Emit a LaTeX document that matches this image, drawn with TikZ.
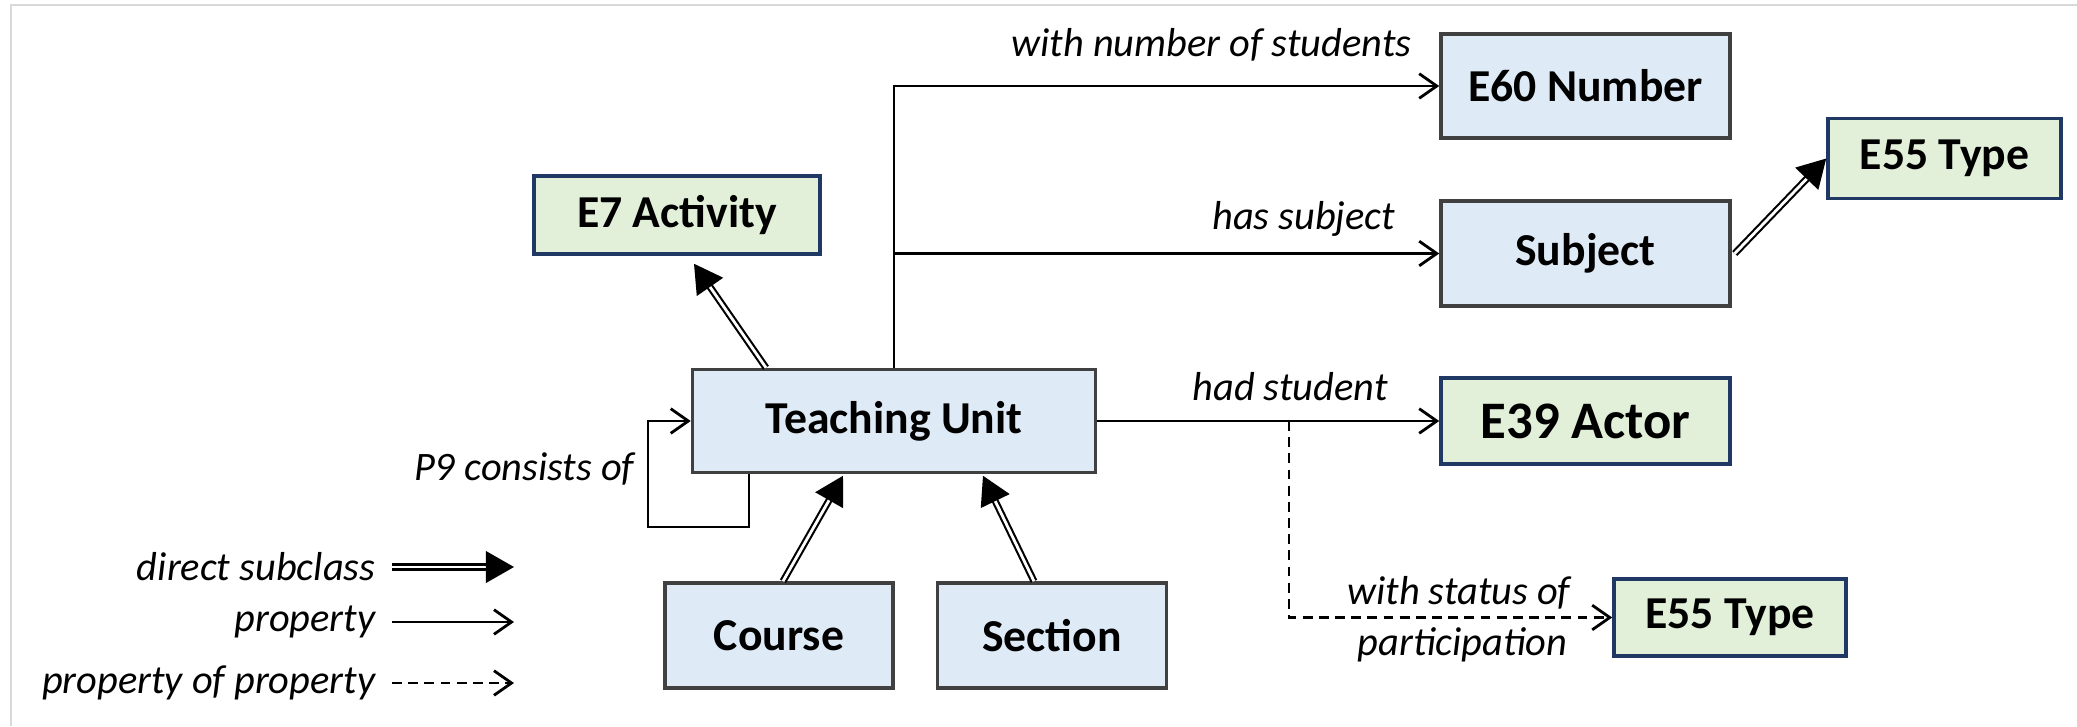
\documentclass[tikz,border=0pt]{standalone}
\usepackage{fontspec}
\setmainfont{Carlito}
\usetikzlibrary{arrows.meta,calc}

\definecolor{boxblue}{HTML}{DEEAF6}
\definecolor{boxgreen}{HTML}{E2EFD9}
\definecolor{edgegray}{HTML}{404040}
\definecolor{edgenavy}{HTML}{1F3864}

\begin{document}
\begin{tikzpicture}[
  cls/.style = {draw=edgegray, fill=boxblue, line width=1pt, inner sep=0pt,
                font=\fontsize{13}{15}\selectfont\bfseries},
  crm/.style = {cls, draw=edgenavy, fill=boxgreen},
  lbl/.style = {inner sep=0pt, font=\fontsize{11.5}{13}\selectfont\itshape},
  prop/.style = {line width=0.8pt, -{Straight Barb[length=5pt,width=7pt]}},
  propprop/.style = {prop, dash pattern=on 2.8pt off 1.8pt},
  subcl/.style = {line width=0.6pt, double, double distance=0.8pt,
                  -{Triangle[length=8pt,width=9pt]}}]
			\useasboundingbox (0,0) rectangle (20.77,7.26);
			\draw [gray!30, line width=0.6pt] (0.107,0) -- (0.107,7.21) -- (20.77,7.21);

			% classes
			\node[cls, minimum width=4.03cm, minimum height=1.03cm] (tu) at (8.94,3.05) {Teaching Unit};
			\node[crm, minimum width=2.86cm, minimum height=0.78cm] (act) at (6.77,5.11) {E7 Activity};
			\node[cls, minimum width=2.89cm, minimum height=1.04cm] (num) at (15.855,6.40) {E60 Number};
			\node[cls, minimum width=2.89cm, minimum height=1.05cm] (subj) at (15.855,4.725) {Subject};
			\node[crm, minimum width=2.33cm, minimum height=0.80cm] (typea) at (19.445,5.675) {E55 Type};
			\node[crm, minimum width=2.89cm, minimum height=0.86cm,
			      font=\fontsize{15}{17}\selectfont\bfseries] (actor) at (15.855,3.05) {E39 Actor};
			\node[crm, minimum width=2.32cm, minimum height=0.77cm] (typeb) at (17.30,1.085) {E55 Type};
			\node[cls, minimum width=2.28cm, minimum height=1.05cm] (course) at (7.79,0.905) {Course};
			\node[cls, minimum width=2.29cm, minimum height=1.05cm] (sect) at (10.52,0.905) {Section};

			% properties
			\draw [prop] (tu.north) |- (num.west);
			\draw [prop] (tu.north |- subj.west) -- (subj.west);
			\draw [prop] (tu.east) -- (actor.west);
			\coordinate (hs) at (12.89,3.05);
			\draw [propprop] (hs) |- (typeb.west);
			\coordinate (loop) at (6.48,1.99);
			\draw [prop] ($(tu.south)+(-1.45,0)$) |- (loop) |- (tu.west);

			% subclasses
			\draw [subcl] ($(tu.north)+(-1.28,0)$) -- ($(act.south)+(0.17,-0.08)$);
			\draw [subcl] ($(course.north)+(0.04,0)$) -- ($(tu.south)+(-0.51,-0.015)$);
			\draw [subcl] ($(sect.north)+(-0.18,0)$) -- ($(tu.south)+(0.89,-0.015)$);
			\draw [subcl] ($(subj.east)+(0.03,0)$) -- (typea.west);

			% labels
			\node[lbl, anchor=east] (lnum) at (14.12,6.81) {with number of students};
			\node[lbl, anchor=east] (lsubj) at (13.96,5.07) {has subject};
			\node[lbl] (lstud) at (12.90,3.39) {had student};
			\node[lbl, anchor=east] (lstat) at (15.71,1.33) {with status of};
			\node[lbl, anchor=east] (lpart) at (15.68,0.81) {participation};
			\node[lbl, anchor=east] (lcons) at (6.35,2.57) {P9 consists of};

			% legend
			\node[lbl, anchor=east] (lgsub) at (3.76,1.59) {direct subclass};
			\node[lbl, anchor=east] (lgprop) at (3.76,1.04) {property};
			\node[lbl, anchor=east] (lgpp) at (3.76,0.43) {property of property};
			\coordinate (lgsubE) at (5.14,1.59);
			\coordinate (lgpropE) at (5.14,1.04);
			\coordinate (lgppE) at (5.14,0.43);
			\draw [subcl] ($(lgsub.east)+(0.16,0)$) -- (lgsubE);
			\draw [prop] ($(lgprop.east)+(0.16,0)$) -- (lgpropE);
			\draw [propprop] ($(lgpp.east)+(0.16,0)$) -- (lgppE);
\end{tikzpicture}
\end{document}
